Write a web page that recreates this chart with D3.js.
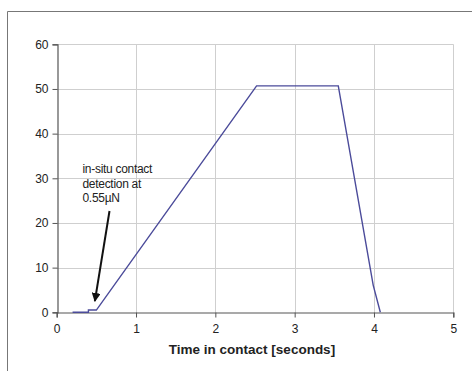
<!DOCTYPE html>
<html>
<head>
<meta charset="utf-8">
<script src="https://cdn.jsdelivr.net/npm/d3@7"></script>
<style>
  html, body { margin: 0; padding: 0; background: #fff; }
  svg { display: block; font-family: "Liberation Sans", Arial, sans-serif; }
</style>
</head>
<body>
<svg id="chart" width="472" height="371"></svg>
<script>
// Force-time profile of the contact (time in seconds, force)
const timeSec = [0.2, 0.4, 0.4, 0.5, 0.5, 2.52, 3.55, 3.99, 4.08];
const force   = [0, 0, 0.5, 0.5, 0.5, 50.7, 50.7, 6.1, 0];
const xTicks = [0, 1, 2, 3, 4, 5];
const yTicks = [0, 10, 20, 30, 40, 50, 60];
const xTitle = "Time in contact [seconds]";
const noteLines = ["in-situ contact", "detection at", "0.55\u00b5N"];
const noteAt = { t: 0.5, f: 0.5 };

const svg = d3.select("#chart");
const margin = { left: 56.7, right: 472 - 453.3, top: 44.3, bottom: 371 - 312.3 };
const W = 472, H = 371;

const x = d3.scaleLinear().domain([0, 5]).range([margin.left, W - margin.right]);
const y = d3.scaleLinear().domain([0, 60]).range([H - margin.bottom, margin.top]);

// outer frame (top and left edges)
svg.append("line").attr("x1", 7.5).attr("x2", W).attr("y1", 11.5).attr("y2", 11.5)
  .attr("stroke", "#777").attr("stroke-width", 1);
svg.append("line").attr("x1", 7.5).attr("x2", 7.5).attr("y1", 11.5).attr("y2", H)
  .attr("stroke", "#777").attr("stroke-width", 1);

// gridlines
const grid = svg.append("g").attr("stroke", "#cfcfcf").attr("stroke-width", 1);
grid.selectAll("line.h").data(yTicks.filter(d => d > 0)).join("line")
  .attr("x1", x(0)).attr("x2", x(5))
  .attr("y1", d => Math.round(y(d)) + 0.5).attr("y2", d => Math.round(y(d)) + 0.5);
grid.selectAll("line.v").data(xTicks.filter(d => d > 0)).join("line")
  .attr("y1", y(0)).attr("y2", y(60))
  .attr("x1", d => Math.round(x(d)) + 0.5).attr("x2", d => Math.round(x(d)) + 0.5);

// axes
const yAxis = svg.append("g").attr("transform", `translate(${Math.round(x(0)) + 0.5},0)`)
  .call(d3.axisLeft(y).tickValues(yTicks).tickFormat(d3.format("d")).tickSize(5).tickPadding(4));
const xAxis = svg.append("g").attr("transform", `translate(0,${Math.round(y(0)) + 0.5})`)
  .call(d3.axisBottom(x).tickValues(xTicks).tickFormat(d3.format("d")).tickSize(5).tickPadding(7));
[xAxis, yAxis].forEach(a => {
  a.select(".domain").attr("stroke", "#555").attr("stroke-width", 1.2);
  a.selectAll(".tick line").attr("stroke", "#555");
  a.selectAll("text").attr("font-size", 12).attr("fill", "#222")
    .attr("font-family", "Liberation Sans, Arial, sans-serif");
});

// axis title
svg.append("text").attr("x", 252).attr("y", 354)
  .attr("text-anchor", "middle").attr("font-weight", "bold").attr("font-size", 13.5)
  .attr("fill", "#222").text(xTitle);

// force curve
const pts = timeSec.map((t, i) => [t, force[i]]);
svg.append("path").datum(pts)
  .attr("fill", "none").attr("stroke", "#4b4b9a").attr("stroke-width", 1.4)
  .attr("d", d3.line().x(d => x(d[0])).y(d => y(d[1])));

// annotation
const note = svg.append("text").attr("x", 82.5).attr("y", 173)
  .attr("font-size", 12).attr("fill", "#222").attr("letter-spacing", -0.3);
noteLines.forEach((s, i) => note.append("tspan").attr("x", 82.5).attr("dy", i ? 14.5 : 0).text(s));

svg.append("defs").append("marker").attr("id", "head")
  .attr("viewBox", "0 0 10 10").attr("refX", 9).attr("refY", 5)
  .attr("markerWidth", 4.5).attr("markerHeight", 4.5).attr("markerUnits", "strokeWidth")
  .attr("orient", "auto")
  .append("path").attr("d", "M0,0 L10,5 L0,10 Z").attr("fill", "#111");
svg.append("line")
  .attr("x1", 109.5).attr("y1", 211)
  .attr("x2", x(noteAt.t) - 1.5).attr("y2", y(noteAt.f) - 9)
  .attr("stroke", "#111").attr("stroke-width", 2).attr("marker-end", "url(#head)");
</script>
</body>
</html>
